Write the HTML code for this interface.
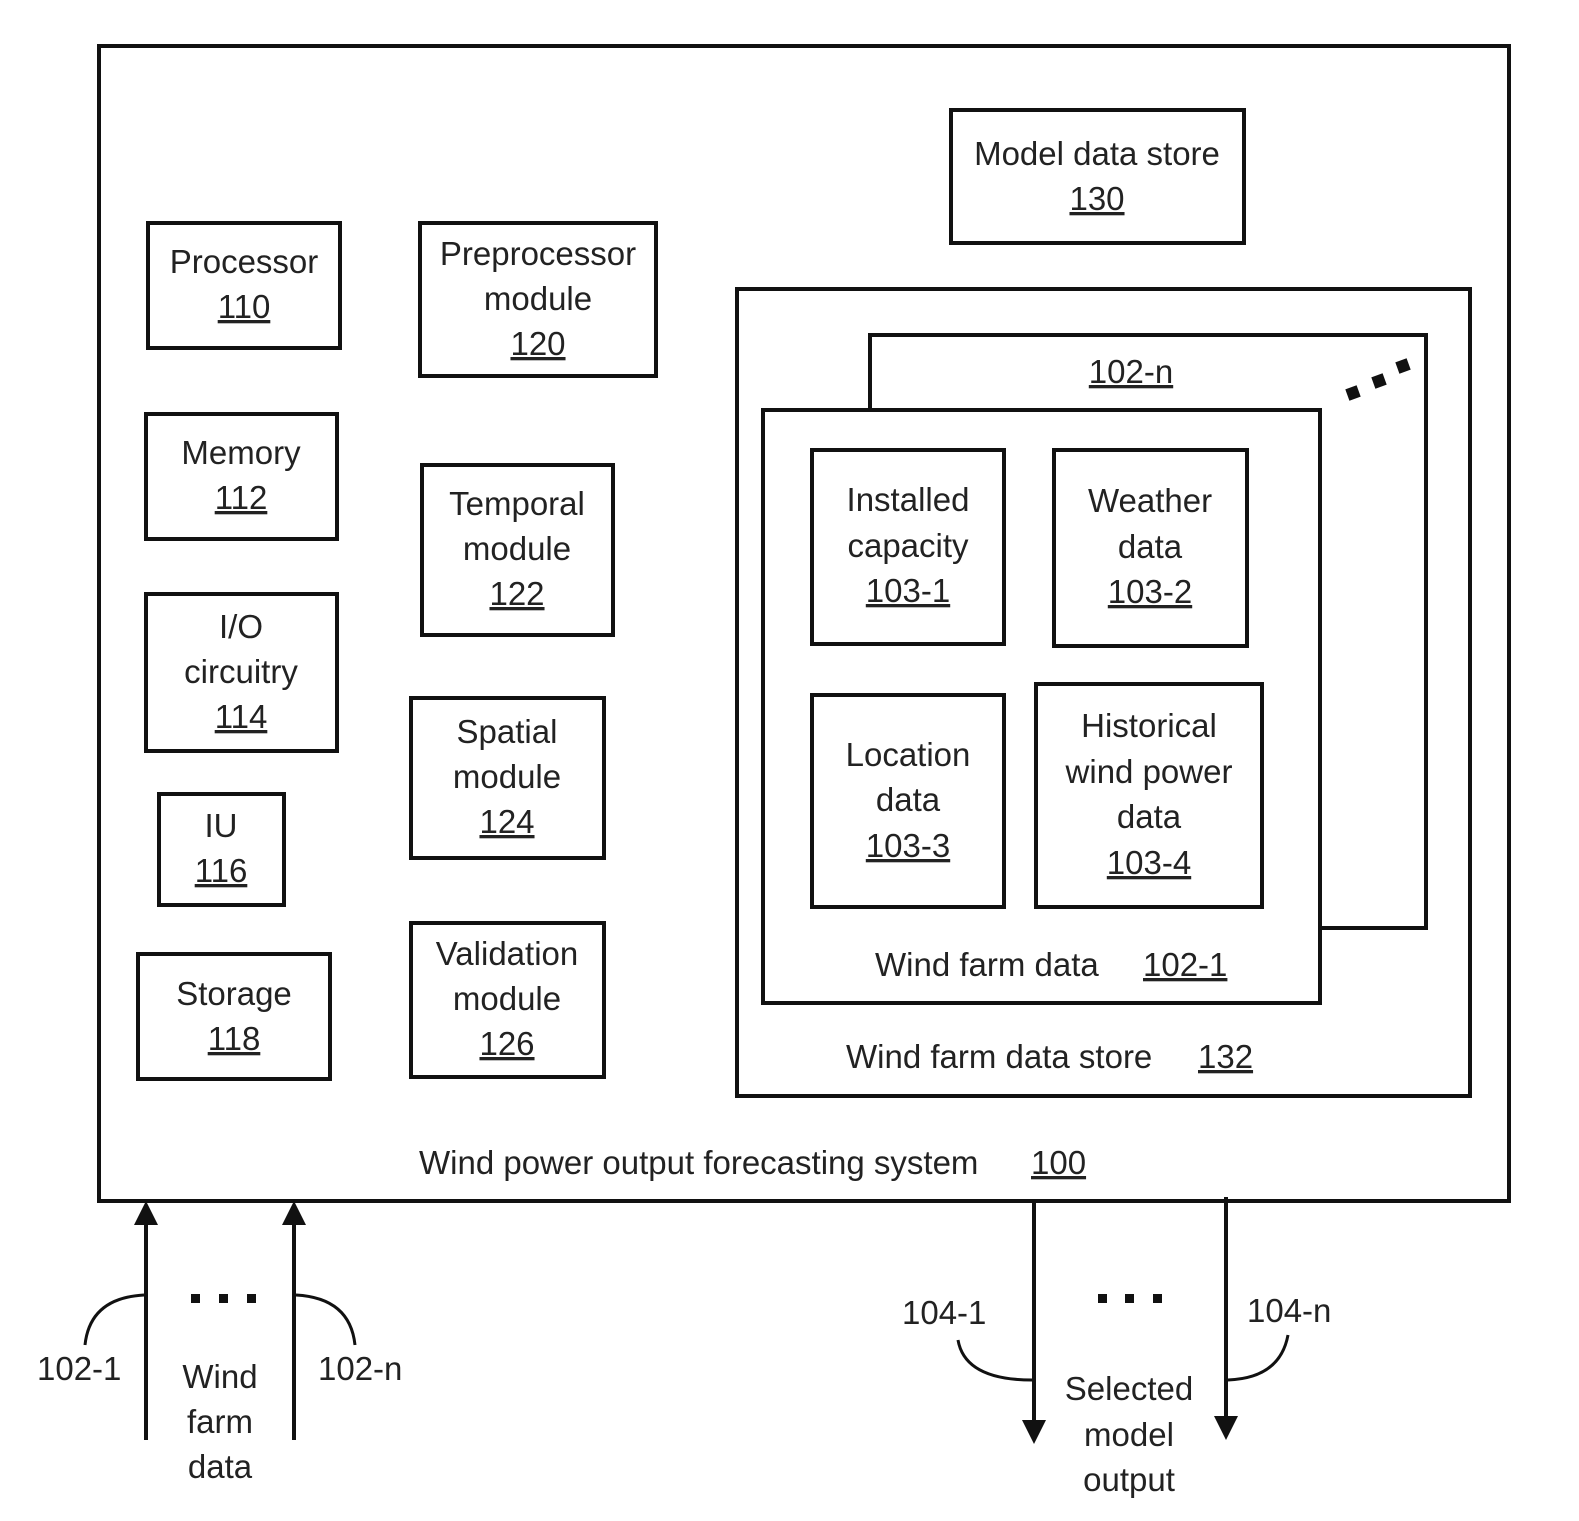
<!DOCTYPE html>
<html><head><meta charset="utf-8"><style>
html,body{margin:0;padding:0;background:#fff}
text{font-family:"Liberation Sans",Arial,sans-serif;font-size:33px;fill:#222}
</style></head><body>
<svg width="1579" height="1516" viewBox="0 0 1579 1516" xmlns="http://www.w3.org/2000/svg">
<g fill="none" stroke="#111" stroke-width="4">
<rect x="99" y="46" width="1410" height="1155"/>
<rect x="951" y="110" width="293" height="133"/>
<rect x="148" y="223" width="192" height="125"/>
<rect x="420" y="223" width="236" height="153"/>
<rect x="146" y="414" width="191" height="125"/>
<rect x="422" y="465" width="191" height="170"/>
<rect x="146" y="594" width="191" height="157"/>
<rect x="411" y="698" width="193" height="160"/>
<rect x="159" y="794" width="125" height="111"/>
<rect x="138" y="954" width="192" height="125"/>
<rect x="411" y="923" width="193" height="154"/>
<rect x="737" y="289" width="733" height="807"/>
<polyline points="870,410 870,335 1426,335 1426,928 1320,928"/>
<rect x="763" y="410" width="557" height="593"/>
<rect x="812" y="450" width="192" height="194"/>
<rect x="1054" y="450" width="193" height="196"/>
<rect x="812" y="695" width="192" height="212"/>
<rect x="1036" y="684" width="226" height="223"/>
<line x1="146" y1="1440" x2="146" y2="1215"/>
<line x1="294" y1="1440" x2="294" y2="1215"/>
<line x1="1034" y1="1203" x2="1034" y2="1428"/>
<line x1="1226" y1="1197" x2="1226" y2="1428"/>
<path d="M85,1345 Q90,1298 144,1295" stroke-width="3"/>
<path d="M296,1295 Q350,1298 355,1345" stroke-width="3"/>
<path d="M958,1340 Q965,1380 1032,1380" stroke-width="3"/>
<path d="M1288,1335 Q1280,1378 1228,1380" stroke-width="3"/>
</g>
<g fill="#111">
<polygon points="146,1201 134,1225 158,1225"/>
<polygon points="294,1201 282,1225 306,1225"/>
<polygon points="1034,1444 1022,1420 1046,1420"/>
<polygon points="1226,1440 1214,1416 1238,1416"/>
<rect x="1347" y="387" width="12" height="12" transform="rotate(-20 1353 393)"/>
<rect x="1373" y="375" width="12" height="12" transform="rotate(-20 1379 381)"/>
<rect x="1397" y="360" width="12" height="12" transform="rotate(-20 1403 366)"/>
<rect x="191" y="1294" width="9" height="9"/><rect x="219" y="1294" width="9" height="9"/><rect x="247" y="1294" width="9" height="9"/>
<rect x="1098" y="1294" width="9" height="9"/><rect x="1125" y="1294" width="9" height="9"/><rect x="1153" y="1294" width="9" height="9"/>
</g>
<g text-anchor="middle">
<text x="1097" y="165">Model data store</text><text x="1097" y="210" text-decoration="underline">130</text>
<text x="244" y="273">Processor</text><text x="244" y="318" text-decoration="underline">110</text>
<text x="538" y="265">Preprocessor</text><text x="538" y="310">module</text><text x="538" y="355" text-decoration="underline">120</text>
<text x="241" y="464">Memory</text><text x="241" y="509" text-decoration="underline">112</text>
<text x="517" y="515">Temporal</text><text x="517" y="560">module</text><text x="517" y="605" text-decoration="underline">122</text>
<text x="241" y="638">I/O</text><text x="241" y="683">circuitry</text><text x="241" y="728" text-decoration="underline">114</text>
<text x="507" y="743">Spatial</text><text x="507" y="788">module</text><text x="507" y="833" text-decoration="underline">124</text>
<text x="221" y="837">IU</text><text x="221" y="882" text-decoration="underline">116</text>
<text x="234" y="1005">Storage</text><text x="234" y="1050" text-decoration="underline">118</text>
<text x="507" y="965">Validation</text><text x="507" y="1010">module</text><text x="507" y="1055" text-decoration="underline">126</text>
<text x="1131" y="383" text-decoration="underline">102-n</text>
<text x="908" y="511">Installed</text><text x="908" y="557">capacity</text><text x="908" y="602" text-decoration="underline">103-1</text>
<text x="1150" y="512">Weather</text><text x="1150" y="558">data</text><text x="1150" y="603" text-decoration="underline">103-2</text>
<text x="908" y="766">Location</text><text x="908" y="811">data</text><text x="908" y="857" text-decoration="underline">103-3</text>
<text x="1149" y="737">Historical</text><text x="1149" y="783">wind power</text><text x="1149" y="828">data</text><text x="1149" y="874" text-decoration="underline">103-4</text>
<text x="220" y="1388">Wind</text><text x="220" y="1433">farm</text><text x="220" y="1478">data</text>
<text x="1129" y="1400">Selected</text><text x="1129" y="1446">model</text><text x="1129" y="1491">output</text>
</g>
<text x="875" y="976">Wind farm data</text><text x="1143" y="976" text-decoration="underline">102-1</text>
<text x="846" y="1068">Wind farm data store</text><text x="1198" y="1068" text-decoration="underline">132</text>
<text x="419" y="1174">Wind power output forecasting system</text><text x="1031" y="1174" text-decoration="underline">100</text>
<text x="37" y="1380">102-1</text>
<text x="318" y="1380">102-n</text>
<text x="902" y="1324">104-1</text>
<text x="1247" y="1322">104-n</text>
</svg>
</body></html>
